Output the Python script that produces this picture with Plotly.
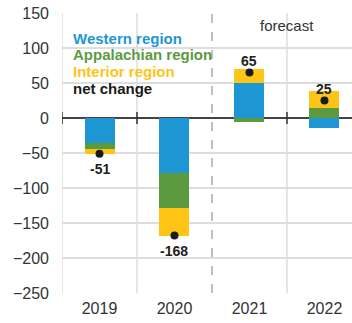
import plotly.graph_objects as go

years = ["2019", "2020", "2021", "2022"]
western = [-36, -79, 50, -14]
appalachian = [-8, -50, -5, 15]
interior = [-7, -39, 20, 24]
net_change = [-51, -168, 65, 25]

series_names = ["Western region", "Appalachian region", "Interior region"]
series_colors = ["#1f96d4", "#5b9a3f", "#ffc516"]

xpos = list(range(len(years)))
boundaries = [i - 0.5 for i in range(len(years))]

fig = go.Figure()
for name, vals, col in zip(series_names, [western, appalachian, interior], series_colors):
    fig.add_trace(go.Bar(x=xpos, y=vals, name=name, marker=dict(color=col, line=dict(width=0)),
                         width=0.4, showlegend=False))

fig.add_trace(go.Scatter(x=xpos, y=net_change, mode="markers", name="net change",
                         marker=dict(symbol="circle", size=8, color="#1a1a1a"),
                         showlegend=False))

# value labels above positive totals, below negative ones
for xi, v in zip(xpos, net_change):
    fig.add_annotation(x=xi, y=v, text=f"<b>{v}</b>", showarrow=False,
                       yshift=12 if v > 0 else -15,
                       font=dict(family="Liberation Sans, Arial", size=14, color="#222"))

# text legend in the upper left
legend_items = series_names + ["net change"]
legend_colors = series_colors + ["#1a1a1a"]
for i, (t, c) in enumerate(zip(legend_items, legend_colors)):
    fig.add_annotation(xref="paper", yref="paper", x=0.031, y=0.91 - i * 0.0597,
                       xanchor="left", yanchor="middle", text=f"<b>{t}</b>", showarrow=False,
                       font=dict(family="Liberation Sans, Arial", size=15, color=c))

fig.add_annotation(x=2.5, y=1, yref="paper", xref="x", yanchor="top", yshift=-2,
                   text="forecast", showarrow=False,
                   font=dict(family="Liberation Sans, Arial", size=15, color="#333"))

# vertical gridlines between the years (the one before the forecast is dashed)
for b in boundaries:
    if b == 1.5:
        fig.add_shape(type="line", x0=b, x1=b, y0=0, y1=1, yref="y domain", xref="x",
                      layer="below", line=dict(color="#aaaaaa", width=1.5, dash="dash"))
    else:
        fig.add_shape(type="line", x0=b, x1=b, y0=0, y1=1, yref="y domain", xref="x",
                      layer="below", line=dict(color="#dddddd", width=1.5))
        # small tick crossing the zero line
        fig.add_shape(type="line", x0=b, x1=b, y0=-6, y1=6, ysizemode="pixel", yanchor=0,
                      xref="x", yref="y", line=dict(color="#333", width=1.5))

fig.update_layout(
    barmode="relative",
    width=352, height=323,
    margin=dict(l=62, r=0, t=13, b=30),
    plot_bgcolor="white", paper_bgcolor="white",
    font=dict(family="Liberation Sans, Arial", color="#333"),
    bargap=0,
)
fig.update_xaxes(range=[-0.5, 3.367], tickvals=xpos, ticktext=years, showgrid=False,
                 zeroline=False, tickfont=dict(size=16, color="#333"), ticklabelstandoff=4,
                 showline=False)
fig.update_yaxes(range=[-250, 150], tickvals=[-250, -200, -150, -100, -50, 0, 50, 100, 150],
                 showgrid=True, gridcolor="#dddddd", gridwidth=1.5,
                 zeroline=True, zerolinecolor="#444", zerolinewidth=2,
                 tickfont=dict(size=16, color="#333"), ticklabelstandoff=12)

fig.write_html("out.html")
